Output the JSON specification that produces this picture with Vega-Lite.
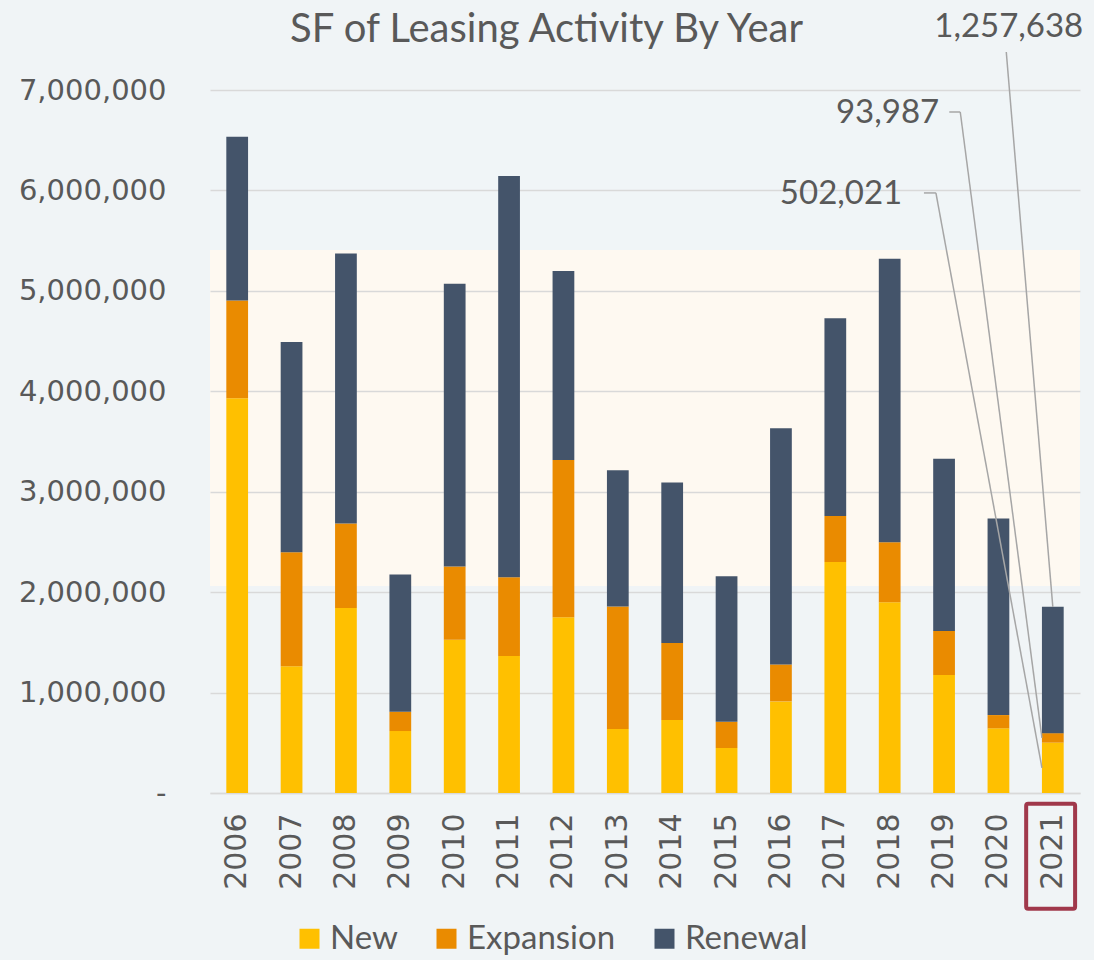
{
  "$schema": "https://vega.github.io/schema/vega-lite/v6.json",
  "width": 870,
  "height": 703,
  "autosize": {"type": "none"},
  "padding": {"left": 210, "top": 90, "right": 14, "bottom": 167},
  "background": "#F0F4F6",
  "view": {
    "stroke": null,
    "fill": {
      "gradient": "linear", "x1": 0, "y1": 0, "x2": 0, "y2": 1,
      "stops": [
        {"offset": 0, "color": "#F0F5F7"},
        {"offset": 0.227, "color": "#F0F5F7"},
        {"offset": 0.228, "color": "#FEF9F1"},
        {"offset": 0.705, "color": "#FEF9F1"},
        {"offset": 0.706, "color": "#F0F4F6"},
        {"offset": 1, "color": "#F0F4F6"}
      ]
    }
  },
  "title": {
    "text": "SF of Leasing Activity By Year",
    "anchor": "start",
    "frame": "group",
    "dx": 80,
    "dy": 43,
    "font": "Lato",
    "fontSize": 40,
    "fontWeight": "normal",
    "color": "#595959"
  },
  "datasets": {
    "bars": [
      {"year": "2006", "type": "New", "sf": 3930000}, {"year": "2006", "type": "Expansion", "sf": 975000}, {"year": "2006", "type": "Renewal", "sf": 1630000},
      {"year": "2007", "type": "New", "sf": 1261000}, {"year": "2007", "type": "Expansion", "sf": 1137000}, {"year": "2007", "type": "Renewal", "sf": 2092000},
      {"year": "2008", "type": "New", "sf": 1841000}, {"year": "2008", "type": "Expansion", "sf": 842000}, {"year": "2008", "type": "Renewal", "sf": 2690000},
      {"year": "2009", "type": "New", "sf": 617000}, {"year": "2009", "type": "Expansion", "sf": 192000}, {"year": "2009", "type": "Renewal", "sf": 1367000},
      {"year": "2010", "type": "New", "sf": 1525000}, {"year": "2010", "type": "Expansion", "sf": 731000}, {"year": "2010", "type": "Renewal", "sf": 2814000},
      {"year": "2011", "type": "New", "sf": 1363000}, {"year": "2011", "type": "Expansion", "sf": 786000}, {"year": "2011", "type": "Renewal", "sf": 3994000},
      {"year": "2012", "type": "New", "sf": 1751000}, {"year": "2012", "type": "Expansion", "sf": 1566000}, {"year": "2012", "type": "Renewal", "sf": 1880000},
      {"year": "2013", "type": "New", "sf": 637000}, {"year": "2013", "type": "Expansion", "sf": 1220000}, {"year": "2013", "type": "Renewal", "sf": 1357000},
      {"year": "2014", "type": "New", "sf": 726000}, {"year": "2014", "type": "Expansion", "sf": 767000}, {"year": "2014", "type": "Renewal", "sf": 1598000},
      {"year": "2015", "type": "New", "sf": 448000}, {"year": "2015", "type": "Expansion", "sf": 261000}, {"year": "2015", "type": "Renewal", "sf": 1450000},
      {"year": "2016", "type": "New", "sf": 912000}, {"year": "2016", "type": "Expansion", "sf": 368000}, {"year": "2016", "type": "Renewal", "sf": 2352000},
      {"year": "2017", "type": "New", "sf": 2299000}, {"year": "2017", "type": "Expansion", "sf": 460000}, {"year": "2017", "type": "Renewal", "sf": 1967000},
      {"year": "2018", "type": "New", "sf": 1900000}, {"year": "2018", "type": "Expansion", "sf": 598000}, {"year": "2018", "type": "Renewal", "sf": 2822000},
      {"year": "2019", "type": "New", "sf": 1174000}, {"year": "2019", "type": "Expansion", "sf": 438000}, {"year": "2019", "type": "Renewal", "sf": 1715000},
      {"year": "2020", "type": "New", "sf": 644000}, {"year": "2020", "type": "Expansion", "sf": 132000}, {"year": "2020", "type": "Renewal", "sf": 1957000},
      {"year": "2021", "type": "New", "sf": 502021}, {"year": "2021", "type": "Expansion", "sf": 93987}, {"year": "2021", "type": "Renewal", "sf": 1257638}
    ],
    "leaders": [
      {"x": 14.644, "y": 7378000, "x2": 15.5, "y2": 1853646},
      {"x": 13.596, "y": 6781000, "x2": 13.798, "y2": 6781000},
      {"x": 13.798, "y": 6781000, "x2": 15.3, "y2": 549014},
      {"x": 13.13, "y": 5975000, "x2": 13.35, "y2": 5975000},
      {"x": 13.35, "y": 5975000, "x2": 15.3, "y2": 251010}
    ],
    "notes": [
      {"value": 1257638, "x": 16.06, "y": 7627000},
      {"value": 93987, "x": 13.41, "y": 6771000},
      {"value": 502021, "x": 12.73, "y": 5966000}
    ],
    "box": [
      {"x": 15.01, "x2": 15.91, "y": -106000, "y2": -1152000}
    ]
  },
  "layer": [
    {
      "data": {"name": "bars"},
      "transform": [
        {"calculate": "indexof(['New','Expansion','Renewal'], datum.type)", "as": "stackOrder"}
      ],
      "mark": {"type": "bar"},
      "encoding": {
        "x": {
          "field": "year", "type": "ordinal",
          "scale": {"paddingInner": 0.6, "paddingOuter": 0.3},
          "axis": {
            "title": null, "labelAngle": -90, "ticks": false, "labelPadding": 20,
            "domainColor": "#D9D9D9", "domainWidth": 1.5,
            "labelFont": "DejaVu Sans", "labelFontSize": 30, "labelColor": "#595959"
          }
        },
        "y": {
          "field": "sf", "type": "quantitative", "stack": "zero",
          "scale": {"domain": [0, 7000000], "nice": false},
          "axis": {
            "title": null, "values": [0, 1000000, 2000000, 3000000, 4000000, 5000000, 6000000, 7000000],
            "labelExpr": "datum.value == 0 ? '-\u2007\u2007' : format(datum.value, ',')",
            "domain": false, "ticks": false, "labelPadding": 44,
            "gridColor": "#D9D9D9", "gridWidth": 1.5,
            "labelFont": "DejaVu Sans", "labelFontSize": 29, "labelColor": "#595959"
          }
        },
        "color": {
          "field": "type", "type": "nominal",
          "scale": {"domain": ["New", "Expansion", "Renewal"], "range": ["#FFC000", "#EA8B00", "#44546A"]},
          "legend": {
            "title": null, "orient": "none", "direction": "horizontal",
            "legendX": 83, "legendY": 832, "padding": 0,
            "symbolType": "square", "symbolSize": 400, "symbolStrokeWidth": 0,
            "labelFont": "Lato", "labelFontSize": 33, "labelColor": "#595959",
            "labelOffset": 4, "columnPadding": 32
          }
        },
        "order": {"field": "stackOrder", "type": "quantitative", "sort": "ascending"}
      }
    },
    {
      "data": {"name": "leaders"},
      "mark": {"type": "rule", "color": "#A6A6A6", "strokeWidth": 1.5},
      "encoding": {
        "x": {"field": "x", "type": "quantitative", "scale": {"domain": [0, 16], "nice": false, "zero": false}, "axis": null},
        "x2": {"field": "x2"},
        "y": {"field": "y", "type": "quantitative"},
        "y2": {"field": "y2"}
      }
    },
    {
      "data": {"name": "notes"},
      "mark": {"type": "text", "align": "right", "baseline": "middle", "font": "Lato", "fontSize": 33, "color": "#595959"},
      "encoding": {
        "x": {"field": "x", "type": "quantitative", "scale": {"domain": [0, 16], "nice": false, "zero": false}, "axis": null},
        "y": {"field": "y", "type": "quantitative"},
        "text": {"field": "value", "type": "quantitative", "format": ","}
      }
    },
    {
      "data": {"name": "box"},
      "mark": {"type": "rect", "fill": null, "stroke": "#A0384B", "strokeWidth": 4, "cornerRadius": 2},
      "encoding": {
        "x": {"field": "x", "type": "quantitative", "scale": {"domain": [0, 16], "nice": false, "zero": false}, "axis": null},
        "x2": {"field": "x2"},
        "y": {"field": "y", "type": "quantitative"},
        "y2": {"field": "y2"}
      }
    }
  ],
  "resolve": {"scale": {"x": "independent"}}
}
